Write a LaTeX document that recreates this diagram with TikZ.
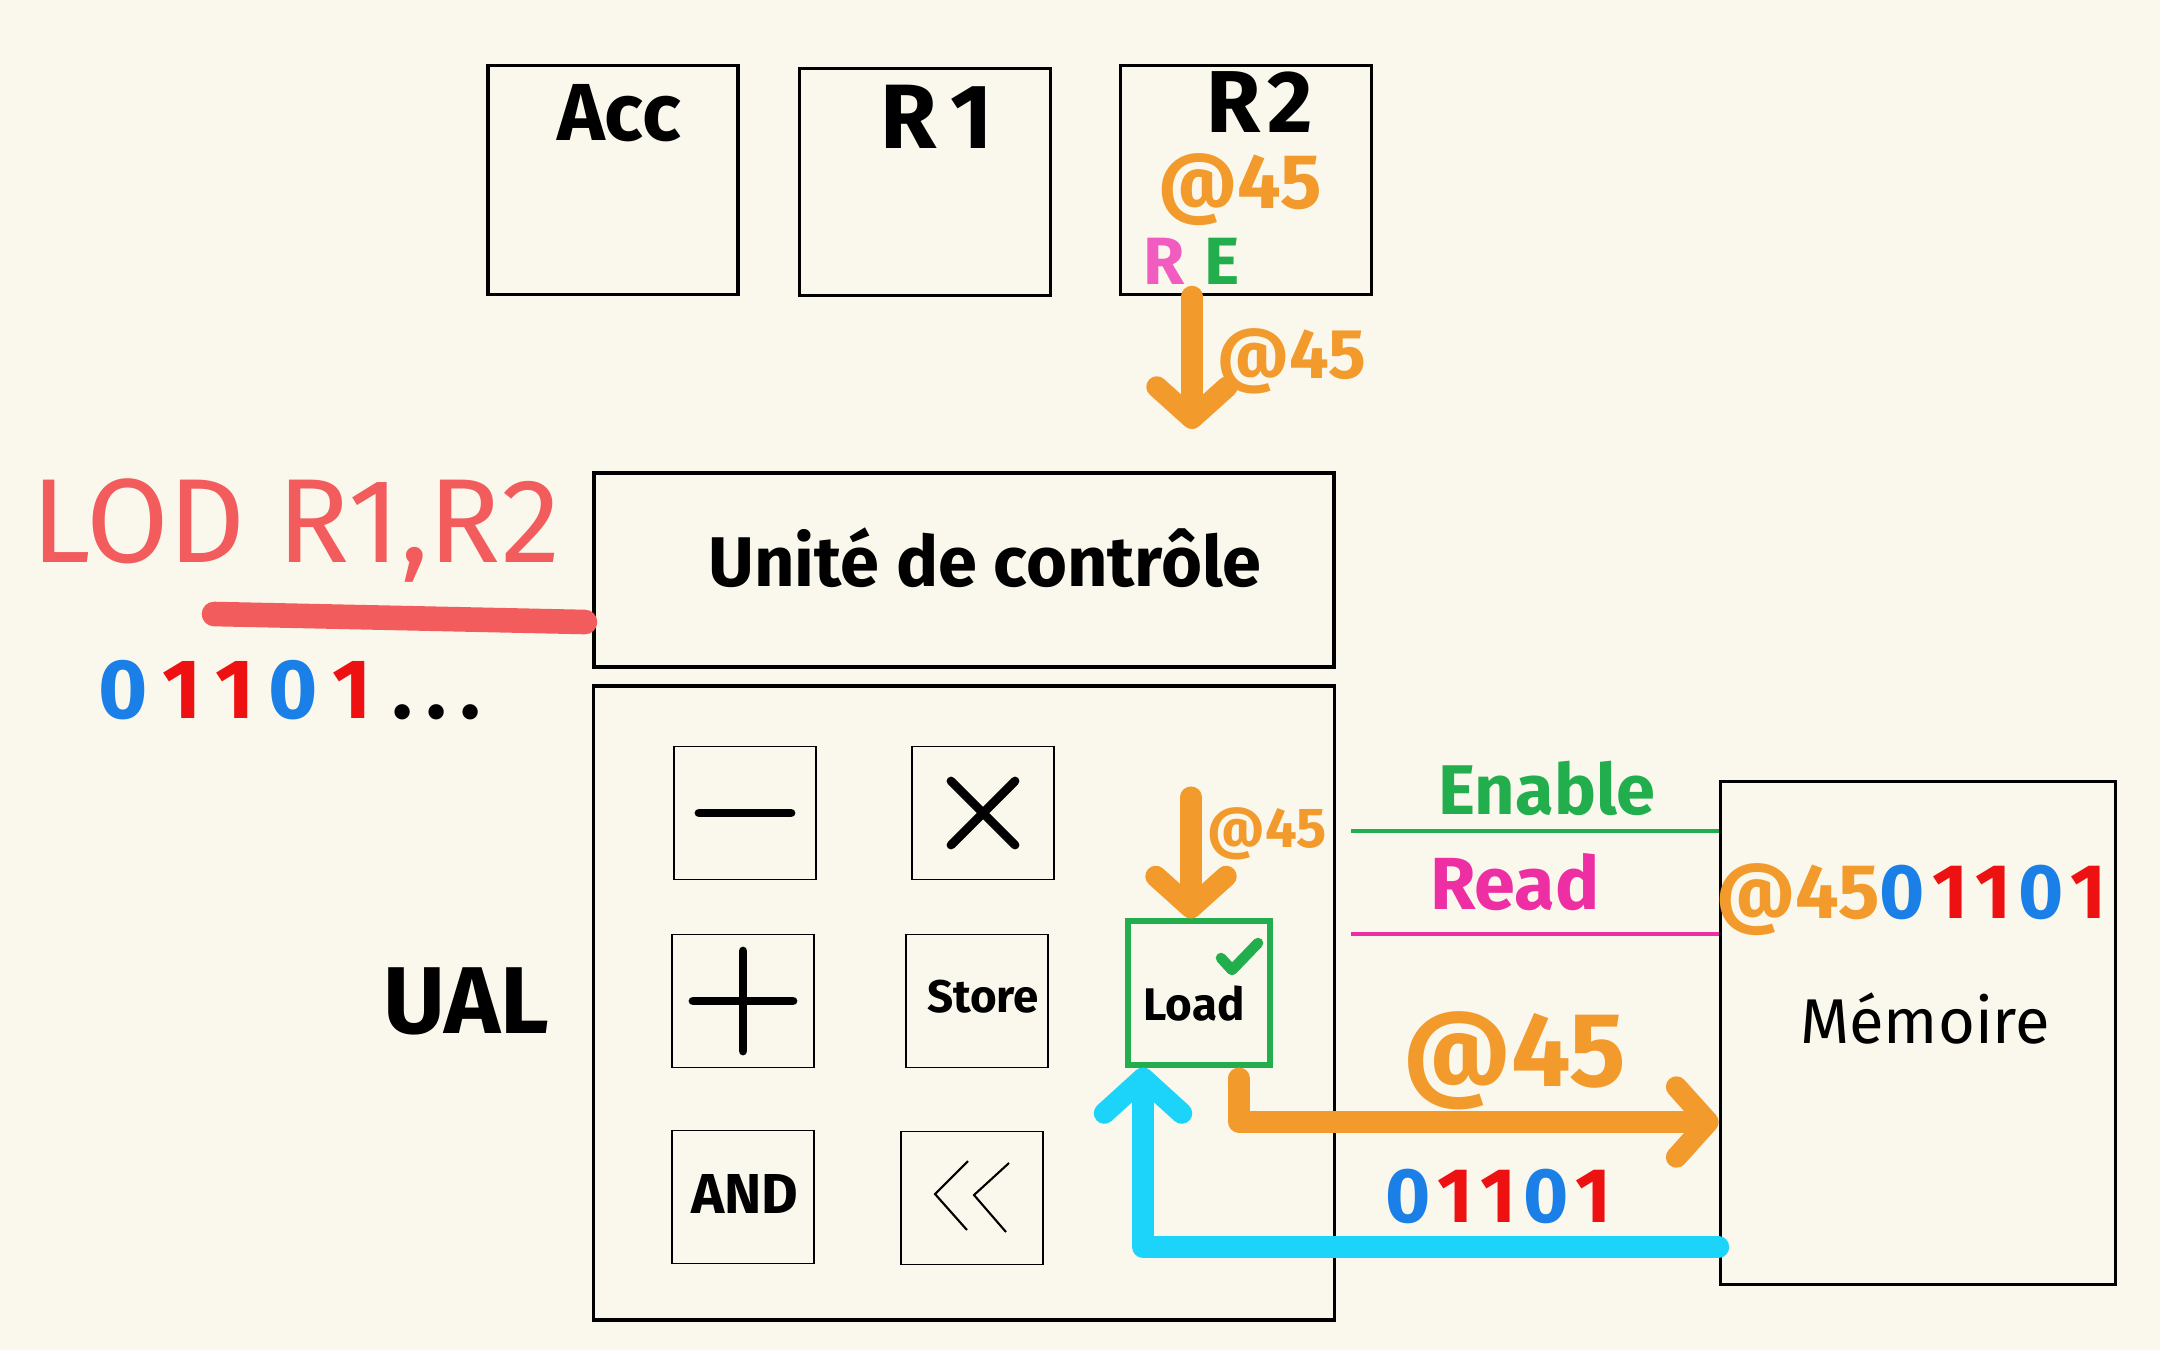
\documentclass[tikz,border=0pt]{standalone}
\usepackage{fontspec}
\setmainfont{Fira Sans}
\usetikzlibrary{arrows.meta}
\definecolor{bg}{HTML}{FAF7EC}
\definecolor{busorange}{HTML}{F29B2C}
\definecolor{lodred}{HTML}{F25C5C}
\definecolor{bitred}{HTML}{EE1111}
\definecolor{bitblue}{HTML}{1A7FE6}
\definecolor{enablegreen}{HTML}{22AE4C}
\definecolor{readpink}{HTML}{EE2FA3}
\definecolor{rpink}{HTML}{F25CC0}
\definecolor{cyanbus}{HTML}{1CD4FA}
\newcommand{\fs}[1]{\fontsize{#1}{#1}\selectfont}
\newcommand{\bz}{\textcolor{bitblue}{0}\kern2pt}
\newcommand{\bo}{\textcolor{bitred}{1}\kern2pt}

\begin{document}
\begin{tikzpicture}[x=0.01cm,y=-0.01cm,
  every node/.style={inner sep=0pt},
  reg/.style={draw,line width=1pt},
  op/.style={draw,line width=0.5pt,minimum width=1.42cm,minimum height=1.33cm},
  sym/.style={line width=2.5pt,line cap=round},
  bus/.style={line width=6pt,line cap=round,line join=round,-{Straight Barb[round,length=9pt,width=20pt]}}]
\fill[bg] (0,0) rectangle (2160,1350);
\useasboundingbox (0,0) rectangle (2160,1350);

% registres
\node[reg,minimum width=2.5cm,minimum height=2.29cm] (acc) at (613,180) {};
\node[reg,minimum width=2.51cm,minimum height=2.27cm] (r1) at (925,182) {};
\node[reg,minimum width=2.51cm,minimum height=2.29cm] (r2) at (1246,180) {};
\node[font=\fs{23}\bfseries] (acct) at (619,113) {Acc};
\node[font=\fs{26}\bfseries] (r1t) at (937,117) {R\kern4pt1};
\node[font=\fs{25}\bfseries] (r2t) at (1260,102) {R\kern2pt2};
\node[font=\fs{22}\bfseries,text=busorange] (r2a) at (1240,190) {@45};
\node[font=\fs{19}\bfseries,text=rpink] (r2r) at (1164,261) {R};
\node[font=\fs{19}\bfseries,text=enablegreen] (r2e) at (1222,261) {E};

% unite de controle
\node[reg,minimum width=7.4cm,minimum height=1.94cm] (cu) at (964,570) {};
\node[font=\fs{20}\bfseries] (cut) at (985,558) {Unité de contrôle};
\draw[bus,busorange,shorten >=12pt] (1192,0 |- r2.south) -- (1192,0 |- cu.north);
\node[font=\fs{20}\bfseries,text=busorange] (a45top) at (1292,361) {@45};

% instruction
\node[font=\fs{34},text=lodred] (lod) at (296,530) {LOD R1,R2};
\draw[lodred,line width=7pt,line cap=round] (214,614) -- (585,622);
\node[font=\fs{24}\bfseries] (bits) at (290,690) {\bz\kern2pt\bo\kern2pt\bo\kern2pt\bz\kern2pt\bo\textcolor{black}{\kern4pt.\kern4pt.\kern4pt.}};

% UAL
\node[reg,minimum width=7.41cm,minimum height=6.34cm] (ual) at (964,1003) {};
\node[font=\fs{27}\bfseries] (ualt) at (466,1001) {UAL};
\node[op] (minus) at (745,813) {};
\node[op] (times) at (983,813) {};
\node[op] (plus) at (743,1001) {};
\node[op] (store) at (977,1001) {};
\node[op] (and) at (743,1197) {};
\node[op] (shl) at (972,1198) {};
\node[draw=enablegreen,line width=1.7pt,minimum width=1.41cm,minimum height=1.43cm] (load) at (1199,993) {};
\draw[sym] (minus.center) +(-46,0) -- +(46,0);
\draw[sym] (times.center) +(-32,-32) -- +(32,32) (times.center) +(-32,32) -- +(32,-32);
\draw[sym] (plus.center) +(-50,0) -- +(50,0) (plus.center) +(0,-50) -- +(0,50);
\draw[line width=0.6pt] (shl.center) +(-4,-37) -- +(-37,-4) -- +(-5,32) +(37,-35) -- +(2,-3) -- +(34,34);
\node[font=\fs{13}\bfseries] (storet) at (983,997) {Store};
\node[font=\fs{13}\bfseries] (loadt) at (1194,1004) {Load};
\node[font=\fs{16}\bfseries] (andt) at (745,1194) {AND};
\draw[enablegreen,line width=3pt,line cap=round,line join=round] (load.center) +(22,-35) -- +(33,-23) -- +(59,-50);

% memoire
\node[reg,minimum width=3.95cm,minimum height=5.03cm] (mem) at (1918,1033) {};
\node[font=\fs{22}\bfseries] (memval) at (1915,900) {\textcolor{busorange}{@45}\bz\bo\bo\bz\bo};
\node[font=\fs{18}] (memt) at (1925,1019) {Mémoire};

% signaux
\node[font=\fs{20}\bfseries,text=enablegreen] (en) at (1547,788) {Enable};
\draw[enablegreen,line width=1.2pt,shorten <=4pt] (ual.east |- 0,831) -- (mem.west |- 0,831);
\node[font=\fs{21}\bfseries,text=readpink] (rd) at (1515,882) {Read};
\draw[readpink,line width=1.2pt,shorten <=4pt] (ual.east |- 0,934) -- (mem.west |- 0,934);

% bus
\coordinate (ldin) at (1191,797);
\draw[bus,busorange] (ldin) -- (ldin |- load.north);
\node[font=\fs{16}\bfseries,text=busorange] (a45ld) at (1267,834) {@45};
\draw[bus,busorange,shorten <=3pt] (1239,0 |- load.south) |- (mem.west |- 0,1122);
\node[font=\fs{30}\bfseries,text=busorange] (a45) at (1515,1061) {@45};
\draw[bus,cyanbus,-{Straight Barb[round,length=10pt,width=22pt]}] (mem.west |- 0,1247) -| (1143,0 |- load.south);
\node[font=\fs{22}\bfseries] (bits2) at (1502,1196) {\bz\bo\bo\bz\bo};
\end{tikzpicture}
\end{document}
